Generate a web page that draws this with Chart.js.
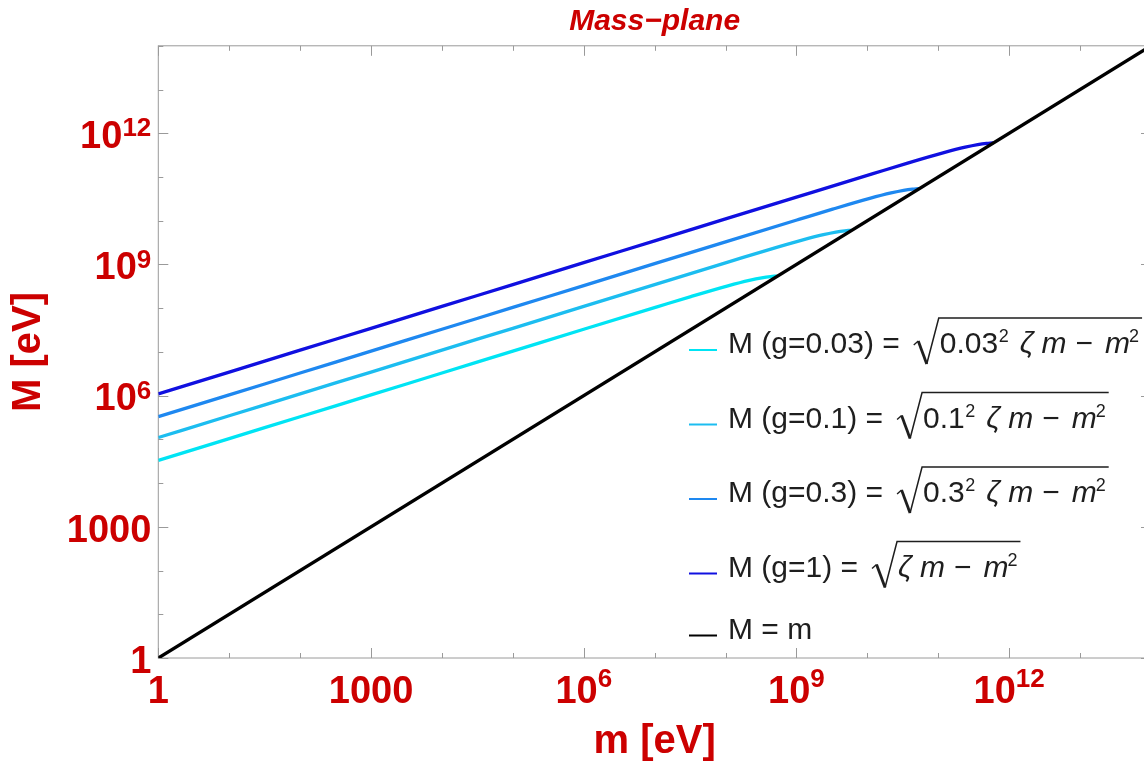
<!DOCTYPE html>
<html>
<head>
<meta charset="utf-8">
<title>Mass-plane</title>
<script src="https://cdn.jsdelivr.net/npm/chart.js@4.4.1/dist/chart.umd.min.js"></script>
<style>
  html, body { margin: 0; padding: 0; background: #fff; overflow: hidden; }
  canvas { display: block; }
</style>
</head>
<body>
<canvas id="mass-plane" width="1153" height="776"></canvas>
<script>
// heavy mass M against light mass m (both in eV), log-log, one curve per coupling g
const couplings = ['0.03', '0.1', '0.3', '1'];
const curveColors = ['#00e4f4', '#1cbdf0', '#1e88f0', '#1010e0'];

const lightMassG003 = [1, 10, 100, 1e3, 1e4, 1e5, 1e6, 1.08e7, 3.24e7, 1.08e8, 2.16e8, 3.24e8, 4.32e8, 4.86e8, 5.4e8];
const heavyMassG003 = [3.29e4, 1.04e5, 3.29e5, 1.04e6, 3.29e6, 1.04e7, 3.29e7, 1.07e8, 1.84e8, 3.24e8, 4.32e8, 4.95e8, 5.29e8, 5.37e8, 5.4e8];

const lightMassG01 = [1, 10, 100, 1e3, 1e4, 1e5, 1e6, 1e7, 1.2e8, 3.6e8, 1.2e9, 2.4e9, 3.6e9, 4.8e9, 5.4e9, 6e9];
const heavyMassG01 = [1.1e5, 3.46e5, 1.1e6, 3.46e6, 1.1e7, 3.46e7, 1.1e8, 3.46e8, 1.19e9, 2.05e9, 3.6e9, 4.8e9, 5.5e9, 5.88e9, 5.97e9, 6e9];

const lightMassG03 = [1, 10, 100, 1e3, 1e4, 1e5, 1e6, 1e7, 1e8, 1.08e9, 3.24e9, 1.08e10, 2.16e10, 3.24e10, 4.32e10, 4.86e10, 5.4e10];
const heavyMassG03 = [3.29e5, 1.04e6, 3.29e6, 1.04e7, 3.29e7, 1.04e8, 3.29e8, 1.04e9, 3.29e9, 1.07e10, 1.84e10, 3.24e10, 4.32e10, 4.95e10, 5.29e10, 5.37e10, 5.4e10];

const lightMassG1 = [1, 10, 100, 1e3, 1e4, 1e5, 1e6, 1e7, 1e8, 1e9, 1.2e10, 3.6e10, 1.2e11, 2.4e11, 3.6e11, 4.8e11, 5.4e11, 6e11];
const heavyMassG1 = [1.1e6, 3.46e6, 1.1e7, 3.46e7, 1.1e8, 3.46e8, 1.1e9, 3.46e9, 1.1e10, 3.46e10, 1.19e11, 2.05e11, 3.6e11, 4.8e11, 5.5e11, 5.88e11, 5.97e11, 6e11];

const diagonalLight = [1, 1e14];
const diagonalHeavy = [1, 1e14];

const decadeTicks = [1, 1e1, 1e2, 1e3, 1e4, 1e5, 1e6, 1e7, 1e8, 1e9, 1e10, 1e11, 1e12, 1e13, 1e14];
const majorTicks = [1, 1e3, 1e6, 1e9, 1e12];
const xTickLabels = ['1', '1000', '10^6', '10^9', '10^12'];
const yTickLabels = ['1', '1000', '10^6', '10^9', '10^12'];

const FAMILY = '"Liberation Sans", Arial, Helvetica, sans-serif';
const RED = '#cc0000';
const FRAME = '#9a9a9a';
const INK = '#1e1e1e';

const toPoints = (xs, ys) => xs.map((x, i) => ({ x, y: ys[i] }));

const curveSeries = [
  [lightMassG003, heavyMassG003],
  [lightMassG01, heavyMassG01],
  [lightMassG03, heavyMassG03],
  [lightMassG1, heavyMassG1],
];

const datasets = curveSeries.map(([xs, ys], i) => {
  const g = couplings[i];
  const coef = g === '1' ? '' : g + '² ';
  return {
    label: `M (g=${g}) = √(${coef}ζ m − m²)`,
    coupling: g,
    data: toPoints(xs, ys),
    borderColor: curveColors[i],
    borderWidth: 3.3,
    cubicInterpolationMode: 'monotone',
    pointRadius: 0,
    order: 1,
  };
});
datasets.push({
  label: 'M = m',
  coupling: null,
  data: toPoints(diagonalLight, diagonalHeavy),
  borderColor: '#000000',
  borderWidth: 3.4,
  pointRadius: 0,
  order: 0,
});

// "10^6" style label: base digits plus a raised exponent
function drawPowerLabel(ctx, text, x, baseline, align, raise) {
  const [base, exp] = text.split('^');
  const baseFont = `bold 38px ${FAMILY}`;
  const expFont = `bold 26px ${FAMILY}`;
  ctx.font = baseFont;
  const wBase = ctx.measureText(base).width;
  let wExp = 0;
  if (exp) {
    ctx.font = expFont;
    wExp = ctx.measureText(exp).width;
  }
  const left = align === 'center' ? x - (wBase + wExp) / 2 : x - (wBase + wExp);
  ctx.textAlign = 'left';
  ctx.textBaseline = 'alphabetic';
  ctx.font = baseFont;
  ctx.fillText(base, left, baseline);
  if (exp) {
    ctx.font = expFont;
    ctx.fillText(exp, left + wBase, baseline - raise);
  }
}

const frameAndTicks = {
  id: 'frameAndTicks',
  beforeDatasetsDraw(chart) {
    const { ctx, chartArea: a, scales: { x, y } } = chart;
    ctx.save();
    ctx.strokeStyle = FRAME;
    ctx.lineWidth = 1;
    ctx.strokeRect(a.left, a.top, a.right - a.left, a.bottom - a.top);
    ctx.beginPath();
    decadeTicks.forEach(v => {
      const len = majorTicks.includes(v) ? 10 : 5;
      const px = Math.round(x.getPixelForValue(v)) + 0.5;
      ctx.moveTo(px, a.bottom); ctx.lineTo(px, a.bottom - len);
      ctx.moveTo(px, a.top); ctx.lineTo(px, a.top + len);
      const py = Math.round(y.getPixelForValue(v)) + 0.5;
      ctx.moveTo(a.left, py); ctx.lineTo(a.left + len, py);
      ctx.moveTo(a.right, py); ctx.lineTo(a.right - len, py);
    });
    ctx.stroke();
    ctx.restore();
  },
  afterDraw(chart) {
    const { ctx, chartArea: a, scales: { x, y } } = chart;
    ctx.save();
    ctx.fillStyle = RED;
    majorTicks.forEach((v, i) => {
      drawPowerLabel(ctx, xTickLabels[i], x.getPixelForValue(v), a.bottom + 44.7, 'center', 16);
      drawPowerLabel(ctx, yTickLabels[i], a.left - 7, y.getPixelForValue(v) + 14.7, 'right', 11.5);
    });
    ctx.restore();
  },
};

// legend with typeset square roots
const legendBox = { swatchLeft: 689, swatchLength: 28, textLeft: 728, firstBaseline: 353, rowStep: 74.5, lastRowStep: 62 };
const TEXT_FONT = `30px ${FAMILY}`;
const ITALIC_FONT = `italic 30px ${FAMILY}`;
const SUP_FONT = `18px ${FAMILY}`;

function piece(ctx, text, font, x, baseline) {
  ctx.font = font;
  ctx.fillText(text, x, baseline);
  return x + ctx.measureText(text).width;
}

function drawRadicand(ctx, g, x, baseline) {
  let cx = x;
  if (g !== '1') {
    cx = piece(ctx, g, TEXT_FONT, cx, baseline);
    cx = piece(ctx, '2', SUP_FONT, cx + 0.5, baseline - 11);
    cx += 11;
  }
  cx = piece(ctx, 'ζ', ITALIC_FONT, cx, baseline);
  cx = piece(ctx, 'm', ITALIC_FONT, cx + 8, baseline);
  cx = piece(ctx, '−', TEXT_FONT, cx + 9, baseline);
  cx = piece(ctx, 'm', ITALIC_FONT, cx + 12, baseline);
  cx = piece(ctx, '2', SUP_FONT, cx - 1, baseline - 11);
  return cx;
}

function drawRadical(ctx, x, baseline, endX) {
  const top = baseline - 35;
  ctx.lineCap = 'butt';
  ctx.beginPath();
  ctx.lineWidth = 1.4;
  ctx.moveTo(x, baseline - 8);
  ctx.lineTo(x + 4.5, baseline - 12);
  ctx.stroke();
  ctx.beginPath();
  ctx.lineWidth = 2.8;
  ctx.moveTo(x + 4.5, baseline - 12);
  ctx.lineTo(x + 13, baseline + 11);
  ctx.stroke();
  ctx.beginPath();
  ctx.lineWidth = 1.5;
  ctx.moveTo(x + 13, baseline + 11);
  ctx.lineTo(x + 25, top);
  ctx.lineTo(endX, top);
  ctx.stroke();
}

const mathLegend = {
  id: 'mathLegend',
  afterDraw(chart) {
    const { ctx } = chart;
    ctx.save();
    ctx.textAlign = 'left';
    ctx.textBaseline = 'alphabetic';
    let baseline = legendBox.firstBaseline;
    chart.data.datasets.forEach((ds, i) => {
      if (i > 0) baseline += ds.coupling === null ? legendBox.lastRowStep : legendBox.rowStep;
      ctx.strokeStyle = ds.borderColor;
      ctx.lineWidth = 2;
      ctx.beginPath();
      ctx.moveTo(legendBox.swatchLeft, baseline - 3);
      ctx.lineTo(legendBox.swatchLeft + legendBox.swatchLength, baseline - 3);
      ctx.stroke();

      ctx.fillStyle = INK;
      ctx.strokeStyle = INK;
      if (ds.coupling === null) {
        piece(ctx, ds.label, TEXT_FONT, legendBox.textLeft, baseline);
        return;
      }
      const end = piece(ctx, `M (g=${ds.coupling}) =`, TEXT_FONT, legendBox.textLeft, baseline);
      const rootX = end + 14;
      const contentEnd = drawRadicand(ctx, ds.coupling, rootX + 26, baseline);
      drawRadical(ctx, rootX, baseline, contentEnd + 3);
    });
    ctx.restore();
  },
};

new Chart(document.getElementById('mass-plane'), {
  type: 'line',
  data: { datasets },
  options: {
    responsive: false,
    animation: false,
    devicePixelRatio: 1,
    layout: { padding: { left: 0, right: 2, top: 0, bottom: 0 } },
    plugins: {
      legend: { display: false },
      tooltip: { enabled: false },
      title: {
        display: true,
        text: 'Mass−plane',
        fullSize: false,
        color: RED,
        font: { family: FAMILY, size: 30, weight: 'bold', style: 'italic' },
        padding: { top: 3.9, bottom: 5.9 },
      },
    },
    scales: {
      x: {
        type: 'logarithmic',
        min: 1,
        max: 1e14,
        grid: { display: false, drawTicks: false },
        border: { display: false },
        ticks: { display: false },
        title: {
          display: true,
          text: 'm [eV]',
          color: RED,
          font: { family: FAMILY, size: 40, weight: 'bold' },
          padding: { top: 59.7, bottom: 10.3 },
        },
      },
      y: {
        type: 'logarithmic',
        min: 1,
        max: 1e14,
        grid: { display: false, drawTicks: false },
        border: { display: false },
        ticks: { display: false },
        title: {
          display: true,
          text: 'M [eV]',
          color: RED,
          font: { family: FAMILY, size: 40, weight: 'bold' },
          padding: { top: 5.4, bottom: 104.9 },
        },
      },
    },
  },
  plugins: [frameAndTicks, mathLegend],
});
</script>
</body>
</html>
